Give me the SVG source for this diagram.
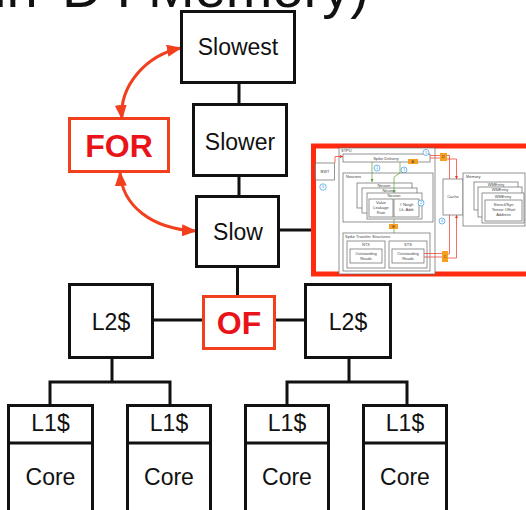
<svg xmlns="http://www.w3.org/2000/svg" width="526" height="510" viewBox="0 0 526 510">
  <style>
    .box { fill: #fff; stroke: #111; stroke-width: 3; }
    .lbl { font-family: "Liberation Sans", Arial, sans-serif; font-size: 23px; fill: #111; text-anchor: middle; }
    .tag { fill: #fff; stroke: #f2401e; stroke-width: 3; }
    .tagt { font-family: "Liberation Sans", Arial, sans-serif; font-size: 32px; font-weight: bold; fill: #e8141a; text-anchor: middle; }
    .wire { fill: none; stroke: #111; stroke-width: 3; }
    .link { fill: none; stroke: #f2401e; stroke-width: 3; }
    .mini { fill: #fff; stroke: #666; stroke-width: 0.7; }
    .mt { font-family: "Liberation Sans", Arial, sans-serif; font-size: 4px; fill: #444; }
    .mc { font-family: "Liberation Sans", Arial, sans-serif; font-size: 4px; fill: #444; text-anchor: middle; }
    .orb { fill: #f5a020; stroke: none; }
    .ot { font-family: "Liberation Sans", Arial, sans-serif; font-size: 3.5px; fill: #333; text-anchor: middle; }
    .num { fill: #fff; stroke: #3a9be0; stroke-width: 0.7; }
    .nt { font-family: "Liberation Sans", Arial, sans-serif; font-size: 4px; fill: #3a9be0; text-anchor: middle; }
    .rl { fill: none; stroke: #f03020; stroke-width: 0.7; }
    .gl { fill: none; stroke: #5aa02c; stroke-width: 0.7; }
  </style>
  <defs>
    <marker id="head" markerUnits="userSpaceOnUse" markerWidth="15" markerHeight="12" refX="14" refY="6" orient="auto-start-reverse">
      <path d="M0,0 L15,6 L0,12 z" fill="#f2401e"/>
    </marker>
    <marker id="rh" markerUnits="userSpaceOnUse" markerWidth="3" markerHeight="3" refX="3" refY="1.5" orient="auto">
      <path d="M0,0 L3,1.5 L0,3 z" fill="#f03020"/>
    </marker>
    <marker id="gh" markerUnits="userSpaceOnUse" markerWidth="3" markerHeight="3" refX="3" refY="1.5" orient="auto">
      <path d="M0,0 L3,1.5 L0,3 z" fill="#5aa02c"/>
    </marker>
  </defs>

  <!-- heading, clipped at the top edge -->
  <text x="-6" y="7" font-family="Liberation Sans, Arial, sans-serif" font-size="56" fill="#111">in<tspan x="62">D</tspan><tspan x="116">I</tspan><tspan x="148">Memory)</tspan></text>

  <!-- connectors -->
  <g id="connectors">
    <path class="wire" d="M239,82.5 V104.5 M239,175.5 V196.5 M237.5,266.5 V296 M278.5,230 H313"/>
    <path class="wire" d="M152.5,320 H203.5 M274.5,320 H305.5"/>
    <path class="wire" d="M112,357.5 V382 M50,405 V382 H170 V405"/>
    <path class="wire" d="M349,357.5 V382 M287,405 V382 H407 V405"/>
    <path class="link" d="M122,119 C119,86 146,55 181,48" marker-start="url(#head)" marker-end="url(#head)"/>
    <path class="link" d="M120,172 C122,206 152,229 196,231" marker-start="url(#head)" marker-end="url(#head)"/>
  </g>

  <!-- memory levels -->
  <g id="slowest"><rect class="box" x="181.5" y="11.5" width="113" height="71"/><text class="lbl" x="238" y="55">Slowest</text></g>
  <g id="slower"><rect class="box" x="193.5" y="104.5" width="93" height="71"/><text class="lbl" x="240" y="150">Slower</text></g>
  <g id="slow"><rect class="box" x="196.5" y="196.5" width="82" height="70"/><text class="lbl" x="238" y="240">Slow</text></g>

  <!-- labels -->
  <g id="for"><rect class="tag" x="69.5" y="118.5" width="99" height="53"/><text class="tagt" x="119" y="156.5">FOR</text></g>
  <g id="of"><rect class="tag" x="203.5" y="296.5" width="71" height="52"/><text class="tagt" x="239" y="333.5">OF</text></g>

  <!-- shared caches -->
  <g id="l2-left"><rect class="box" x="69.5" y="284.5" width="83" height="73"/><text class="lbl" x="111" y="330">L2$</text></g>
  <g id="l2-right"><rect class="box" x="305.5" y="284.5" width="85" height="73"/><text class="lbl" x="348" y="330">L2$</text></g>

  <!-- cores with private caches -->
  <g id="core1"><rect class="box" x="8.5" y="405.5" width="84" height="120"/><path class="wire" d="M8.5,443 H92.5"/><text class="lbl" x="50.5" y="431">L1$</text><text class="lbl" x="50.5" y="485">Core</text></g>
  <g id="core2"><rect class="box" x="127.5" y="405.5" width="83" height="120"/><path class="wire" d="M127.5,443 H210.5"/><text class="lbl" x="169" y="431">L1$</text><text class="lbl" x="169" y="485">Core</text></g>
  <g id="core3"><rect class="box" x="245.5" y="405.5" width="83" height="120"/><path class="wire" d="M245.5,443 H328.5"/><text class="lbl" x="287" y="431">L1$</text><text class="lbl" x="287" y="485">Core</text></g>
  <g id="core4"><rect class="box" x="363.5" y="405.5" width="83" height="120"/><path class="wire" d="M363.5,443 H446.5"/><text class="lbl" x="405" y="431">L1$</text><text class="lbl" x="405" y="485">Core</text></g>

  <!-- spiking processor detail -->
  <g id="detail">
    <rect x="313.5" y="146" width="240" height="128" fill="#fff" stroke="#ff2a10" stroke-width="5"/>

    <rect class="mini" x="315.5" y="163" width="19" height="17"/><text class="mc" x="325" y="173">BWT</text>
    <circle class="num" cx="323" cy="187" r="3.2"/><text class="nt" x="323" y="188.4">6</text>

    <rect class="mini" x="339" y="148" width="96" height="126"/><text class="mt" x="341" y="152">STPU</text>
    <rect class="mini" x="343" y="154" width="87" height="8"/><text class="mc" x="386" y="159.5">Spike Delivery</text>
    <polyline class="rl" points="335,163 335,156.5 343,156.5" marker-end="url(#rh)"/>
    <circle class="num" cx="426" cy="152.5" r="3"/><text class="nt" x="426" y="153.9">5</text>
    <rect class="orb" x="408" y="159" width="10" height="5"/><text class="ot" x="413" y="162.6">A'</text>
    <path class="rl" d="M430,155.5 H440 M430,158 H440"/>
    <rect class="orb" x="440" y="153" width="7" height="8"/><text class="ot" x="443.5" y="158.3">D'</text>

    <circle class="num" cx="377" cy="168" r="3"/><text class="nt" x="377" y="169.4">1</text>
    <circle class="num" cx="404" cy="170" r="3"/><text class="nt" x="404" y="171.4">1</text>

    <rect class="mini" x="343" y="173" width="90" height="49"/><text class="mt" x="346" y="178">Neurons</text>
    <rect class="mini" x="357" y="183" width="55" height="25"/><text class="mc" x="384" y="187">Neuron</text>
    <rect class="mini" x="362" y="188" width="55" height="25"/><text class="mc" x="389" y="192">Neuron</text>
    <rect class="mini" x="367" y="193" width="55" height="26"/><text class="mc" x="394" y="197">Neuron</text>
    <rect class="mini" x="369" y="199" width="24" height="18"/>
    <text class="mc" x="381" y="204">Value</text><text class="mc" x="381" y="209">Leakage</text><text class="mc" x="381" y="214">Rate</text>
    <rect class="mini" x="394" y="199" width="25" height="18"/>
    <text class="mc" x="406.5" y="206">#  Neigh</text><text class="mc" x="406.5" y="211">Lk. Addr</text>
    <circle class="num" cx="421" cy="203" r="3"/><text class="nt" x="421" y="204.4">2</text>

    <path class="gl" d="M372,162 V182" marker-end="url(#gh)"/>
    <path class="gl" d="M400,162 V173 L394,177 V193" marker-end="url(#gh)"/>
    <path class="gl" d="M394,219 V238 H407 V243" marker-end="url(#gh)"/>
    <rect class="orb" x="389" y="224" width="9" height="5"/><text class="ot" x="393.5" y="227.6">B</text>
    <circle class="num" cx="418" cy="239" r="3"/><text class="nt" x="418" y="240.4">3</text>

    <rect class="mini" x="343" y="233" width="87" height="38"/><text class="mt" x="345" y="238">Spike Transfer Structures</text>
    <rect class="mini" x="347" y="241" width="38" height="27"/><text class="mc" x="366" y="246">NTX</text>
    <rect class="mini" x="350" y="249" width="32" height="14"/><text class="mc" x="366" y="255">Outstanding</text><text class="mc" x="366" y="260">Reads</text>
    <rect class="mini" x="389" y="241" width="38" height="27"/><text class="mc" x="408" y="246">STS</text>
    <rect class="mini" x="392" y="249" width="32" height="14"/><text class="mc" x="408" y="255">Outstanding</text><text class="mc" x="408" y="260">Reads</text>

    <path class="rl" d="M424,253.5 H442 M424,257 H442"/>
    <rect class="orb" x="442" y="251" width="6" height="11"/><text class="ot" x="445" y="257.8">C</text>

    <rect class="mini" x="443" y="179" width="20" height="36"/><text class="mc" x="453" y="198">Cache</text>
    <path class="rl" d="M447,155.5 H449.5 V179 M447,159 H456.5 V179" marker-end="url(#rh)"/>
    <path class="rl" d="M448,254 H449.5 V215 M448,258 H456.5 V215" marker-end="url(#rh)"/>
    <circle class="num" cx="442" cy="221" r="3"/><text class="nt" x="442" y="222.4">4</text>

    <rect class="mini" x="463" y="173" width="62" height="53"/><text class="mt" x="466" y="178">Memory</text>
    <rect class="mini" x="474" y="182" width="44" height="28"/><text class="mc" x="496" y="186">WMEntry</text>
    <rect class="mini" x="478" y="187" width="44" height="30"/><text class="mc" x="500" y="191">WMEntry</text>
    <rect class="mini" x="482" y="193" width="42" height="30"/><text class="mc" x="503" y="197.5">WMEntry</text>
    <rect class="mini" x="485" y="200" width="37" height="21"/>
    <text class="mc" x="503.5" y="206">Stencil/Syn</text><text class="mc" x="503.5" y="211">Tensor Offset</text><text class="mc" x="503.5" y="216">Address</text>
  </g>
</svg>
